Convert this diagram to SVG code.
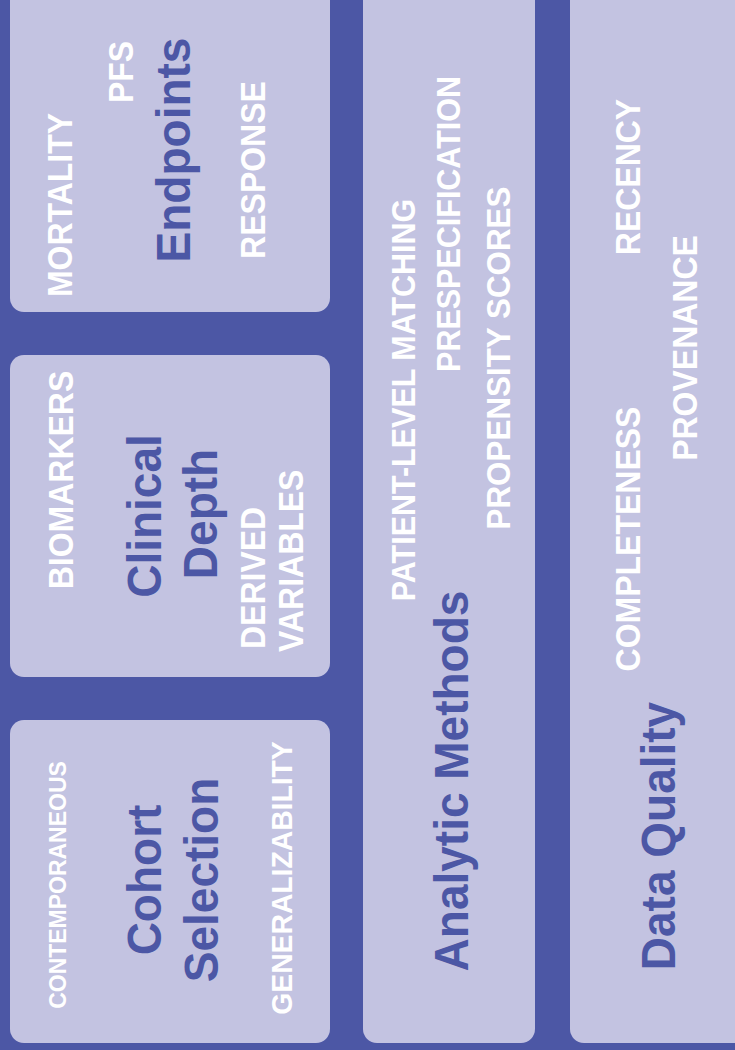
<svg xmlns="http://www.w3.org/2000/svg" width="735" height="1050" viewBox="0 0 735 1050">
  <style>
    .panel { fill: #c3c3e1; }
    .title { font-family: "Liberation Sans", Arial, sans-serif; font-weight: bold; font-size: 46px; fill: #4c57a5; text-anchor: middle; }
    .tag { font-family: "Liberation Sans", Arial, sans-serif; font-weight: bold; font-size: 32px; fill: #ffffff; text-anchor: middle; }
  </style>
  <rect x="0" y="0" width="735" height="1050" fill="#4c57a5"/>

  <!-- Endpoints -->
  <g id="endpoints">
    <rect class="panel" x="10" y="-20" width="320" height="332" rx="14"/>
    <text class="tag" transform="translate(72,205) rotate(-90) scale(1,1.07)">MORTALITY</text>
    <text class="tag" transform="translate(133,72) rotate(-90) scale(1,1.07)">PFS</text>
    <text class="title" transform="translate(190,150) rotate(-90) scale(1,1.06)">Endpoints</text>
    <text class="tag" transform="translate(265,170) rotate(-90) scale(1,1.07)">RESPONSE</text>
  </g>

  <!-- Clinical Depth -->
  <g id="clinical-depth">
    <rect class="panel" x="10" y="355" width="320" height="322" rx="14"/>
    <text class="tag" transform="translate(73,480) rotate(-90) scale(1,1.07)">BIOMARKERS</text>
    <text class="title" transform="translate(161,516) rotate(-90) scale(1,1.06)">Clinical</text>
    <text class="title" transform="translate(217,514) rotate(-90) scale(1,1.06)">Depth</text>
    <text class="tag" style="text-anchor:start" transform="translate(265,649) rotate(-90) scale(1,1.07)">DERIVED</text>
    <text class="tag" style="text-anchor:start" transform="translate(303,652) rotate(-90) scale(1,1.07)">VARIABLES</text>
  </g>

  <!-- Cohort Selection -->
  <g id="cohort-selection">
    <rect class="panel" x="10" y="720" width="320" height="323" rx="14"/>
    <text class="tag" style="font-size:23px" transform="translate(66,885) rotate(-90) scale(1,1.07)">CONTEMPORANEOUS</text>
    <text class="title" transform="translate(161,880) rotate(-90) scale(1,1.06)">Cohort</text>
    <text class="title" transform="translate(218,880) rotate(-90) scale(1,1.06)">Selection</text>
    <text class="tag" style="font-size:28.3px" transform="translate(292,878) rotate(-90) scale(1,1.07)">GENERALIZABILITY</text>
  </g>

  <!-- Analytic Methods -->
  <g id="analytic-methods">
    <rect class="panel" x="363" y="-20" width="172" height="1063" rx="14"/>
    <text class="tag" style="font-size:30.5px" transform="translate(415,400) rotate(-90) scale(1,1.07)">PATIENT-LEVEL MATCHING</text>
    <text class="title" transform="translate(468,781) rotate(-90) scale(1,1.06)">Analytic Methods</text>
    <text class="tag" style="font-size:30.5px" transform="translate(460,224) rotate(-90) scale(1,1.07)">PRESPECIFICATION</text>
    <text class="tag" style="font-size:31.4px" transform="translate(510,358) rotate(-90) scale(1,1.07)">PROPENSITY SCORES</text>
  </g>

  <!-- Data Quality -->
  <g id="data-quality">
    <rect class="panel" x="570" y="-20" width="190" height="1063" rx="14"/>
    <text class="tag" transform="translate(640,539) rotate(-90) scale(1,1.07)">COMPLETENESS</text>
    <text class="tag" transform="translate(640,177) rotate(-90) scale(1,1.07)">RECENCY</text>
    <text class="title" transform="translate(675,836) rotate(-90) scale(1,1.06)">Data Quality</text>
    <text class="tag" transform="translate(697,348) rotate(-90) scale(1,1.07)">PROVENANCE</text>
  </g>

  <g id="connectors"/>
</svg>
